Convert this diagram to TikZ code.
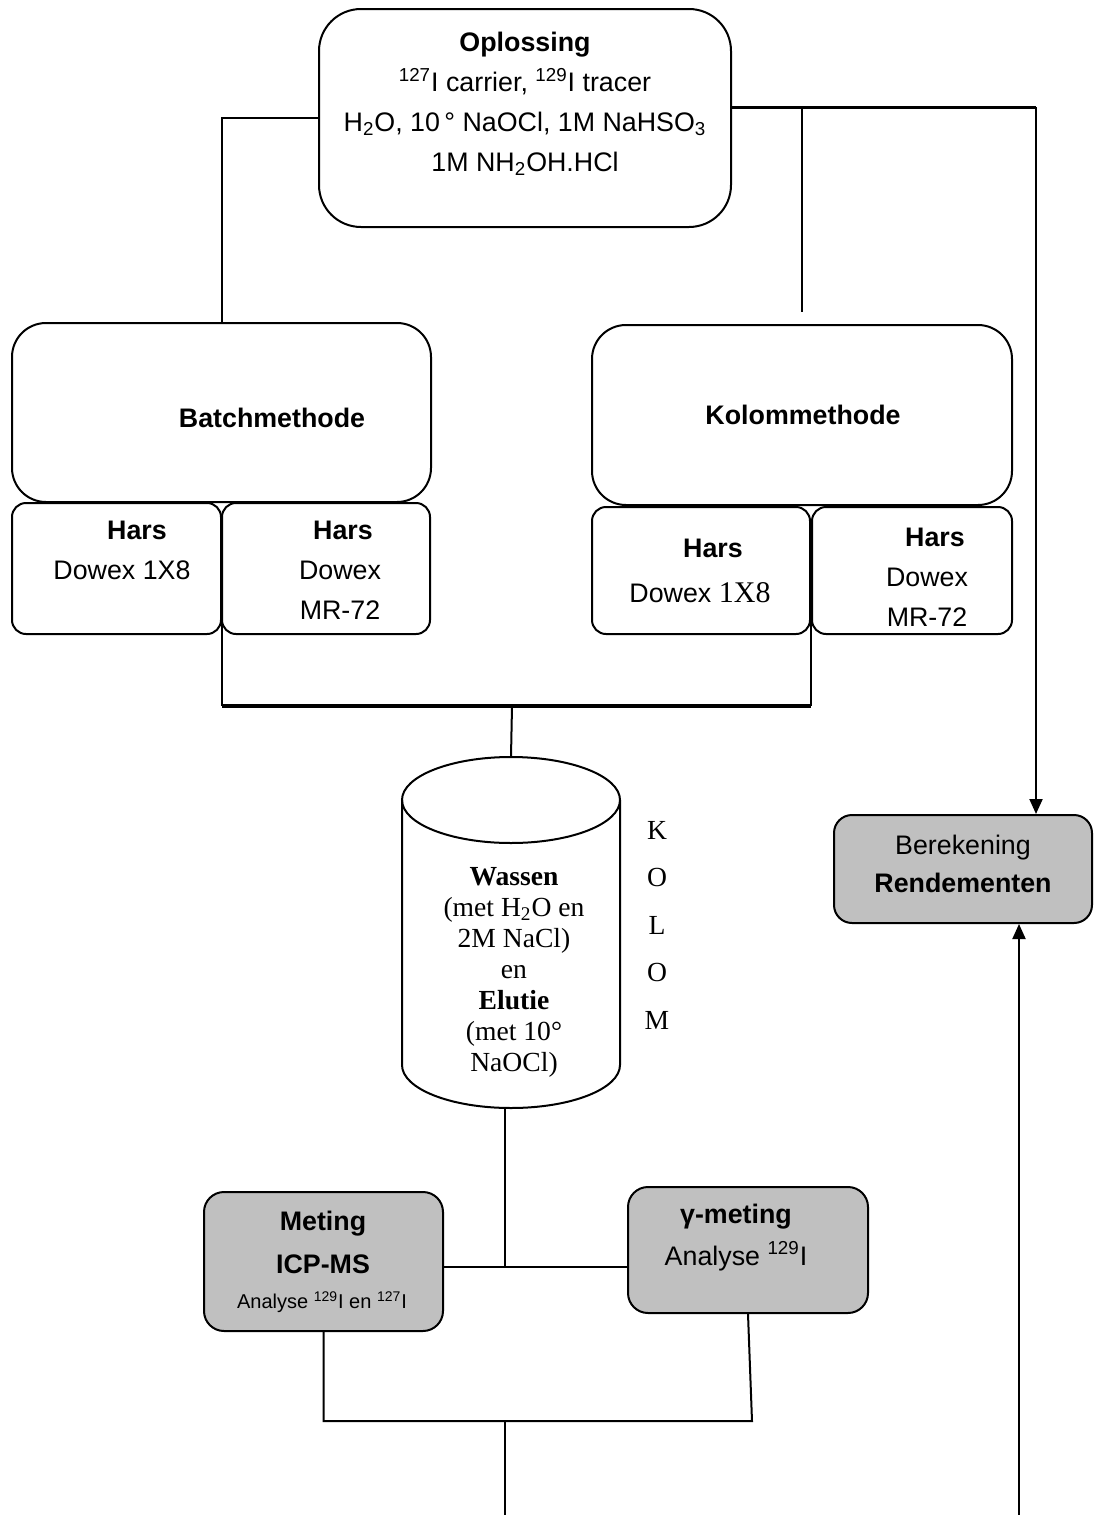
\documentclass[tikz,border=0pt]{standalone}
\usepackage{fontspec}
\setmainfont{Liberation Sans}
\newfontfamily\tms{Liberation Serif}
\usetikzlibrary{arrows.meta}
\definecolor{boxgrey}{RGB}{192,192,192}
\begin{document}
\begin{tikzpicture}[x=0.5pt,y=-0.5pt,
  box/.style={draw, line width=1pt, inner sep=0pt, rectangle},
  grey/.style={fill=boxgrey},
  txt/.style={inner sep=0pt, align=center, font=\fontsize{13.4}{20}\selectfont},
  ctxt/.style={inner sep=0pt, align=center, font=\tms\fontsize{13.8}{15.5}\selectfont},
  ln/.style={line width=1pt},
  arr/.style={line width=1pt, -{Triangle[length=7.5pt,width=6.5pt]}}]
\useasboundingbox (0,0) rectangle (1093,1515);

% top box
\node[box, rounded corners=21pt, minimum width=206pt, minimum height=109pt] (opl) at (525,118) {};
\node[txt] (opltxt) at (525,104) {\textbf{Oplossing}\\ \textsuperscript{127}I carrier, \textsuperscript{129}I tracer\\ H\textsubscript{2}O, 10\,° NaOCl, 1M NaHSO\textsubscript{3}\\ 1M NH\textsubscript{2}OH.HCl};

% method boxes
\node[box, rounded corners=17pt, minimum width=209.5pt, minimum height=89.5pt] (batch) at (221.5,412.5) {};
\node[txt] (batchtxt) at (272,418) {\textbf{Batchmethode}};
\node[box, rounded corners=17pt, minimum width=210pt, minimum height=90pt] (kolom) at (802,415) {};
\node[txt] (kolomtxt) at (803,415) {\textbf{Kolommethode}};

% hars boxes
\node[box, rounded corners=7pt, minimum width=104.5pt, minimum height=65.5pt] (bh1) at (116.5,568.5) {};
\node[box, rounded corners=7pt, minimum width=104pt, minimum height=65.5pt] (bh2) at (326,568.5) {};
\node[box, rounded corners=7pt, minimum width=109pt, minimum height=63.5pt] (kh1) at (701,570.5) {};
\node[box, rounded corners=7pt, minimum width=100pt, minimum height=63.5pt] (kh2) at (912,570.5) {};

\node[txt] (bh1a) at (137,530) {\textbf{Hars}};
\node[txt] (bh1b) at (122,570) {Dowex 1X8};
\node[txt] (bh2a) at (343,530) {\textbf{Hars}};
\node[txt] (bh2b) at (340,570) {Dowex};
\node[txt] (bh2c) at (340,610) {MR-72};
\node[txt] (kh1a) at (713,548) {\textbf{Hars}};
\node[txt] (kh1b) at (700,593) {Dowex {\tms\fontsize{15}{15}\selectfont 1X8}};
\node[txt] (kh2a) at (935,537) {\textbf{Hars}};
\node[txt] (kh2b) at (927,577) {Dowex};
\node[txt] (kh2c) at (927,617) {MR-72};

% column (cylinder)
\node[inner sep=0pt, minimum width=109pt, minimum height=175.5pt] (cyl) at (511,932.5) {};
\draw[ln] (402,800) -- (402,1065) arc[start angle=180, end angle=360, x radius=54.5pt, y radius=21.5pt] -- (620,800);
\draw[ln] (511,800) ellipse [x radius=54.5pt, y radius=21.5pt];
\node[ctxt] (cyltxt) at (514,972) {\textbf{Wassen}\\(met H\textsubscript{2}O en\\2M NaCl)\\en\\\textbf{Elutie}\\(met 10°\\NaOCl)};
\node[inner sep=0pt, align=center, font=\tms\fontsize{13.8}{23.75}\selectfont] (kolomlbl) at (657,925) {K\\O\\L\\O\\M};

% berekening
\node[box, grey, rounded corners=9pt, minimum width=129pt, minimum height=54pt] (bere) at (963,869) {};
\node[txt, font=\fontsize{13.4}{19}\selectfont] (beretxt) at (963,864) {Berekening\\\textbf{Rendementen}};

% measurement boxes
\node[box, grey, rounded corners=10pt, minimum width=119.5pt, minimum height=69.5pt] (met) at (323.5,1261.5) {};
\node[txt] (meta) at (323,1224) {\textbf{Meting}};
\node[txt] (metb) at (323,1264) {\textbf{ICP-MS}};
\node[txt, font=\fontsize{10}{12}\selectfont] (metc) at (322,1302) {Analyse \textsuperscript{129}I en \textsuperscript{127}I};
\node[box, grey, rounded corners=10pt, minimum width=120pt, minimum height=63pt] (gam) at (748,1250) {};
\node[txt] (gama) at (736,1217) {\textbf{γ-meting}};
\node[txt] (gamb) at (736,1256) {Analyse \textsuperscript{129}I};

% connectors
\coordinate (tr) at (1036,107);
\draw[line width=1.5pt] ([yshift=5.5pt]opl.east) -- (tr);
\draw[arr] (tr) -- (tr |- bere.north);
\draw[ln] (kolom.north |- tr) -- ([yshift=6pt]kolom.north);
\draw[ln] (opl.west) -| (batch.north);

\coordinate (bl) at ([yshift=14.5pt]bh1.south east);
\coordinate (br) at ([yshift=14.5pt]kh1.south east);
\coordinate (bar) at (512,706);
\draw[ln] (bl) -- (bl |- bar);
\draw[ln] (br) -- (br |- bar);
\draw[line width=2pt] (bl |- bar) -- (br |- bar);
\draw[ln] (bar) -- (cyl.north);

\coordinate (jn) at (505,1267);
\draw[ln] (cyl.south -| jn) -- (jn);
\draw[ln] (met.east |- jn) -- (gam.west |- jn);

\coordinate (bj) at (505,1421);
\coordinate (gb) at (752,1421);
\coordinate (bend) at (505,1515);
\draw[ln] (met.south) -- (met.south |- bj) -- (gb) -- (gam.south);
\draw[ln] (bj) -- (bend);
\coordinate (rb) at (1019,1515);
\draw[arr] (rb) -- (rb |- bere.south);
\end{tikzpicture}
\end{document}
